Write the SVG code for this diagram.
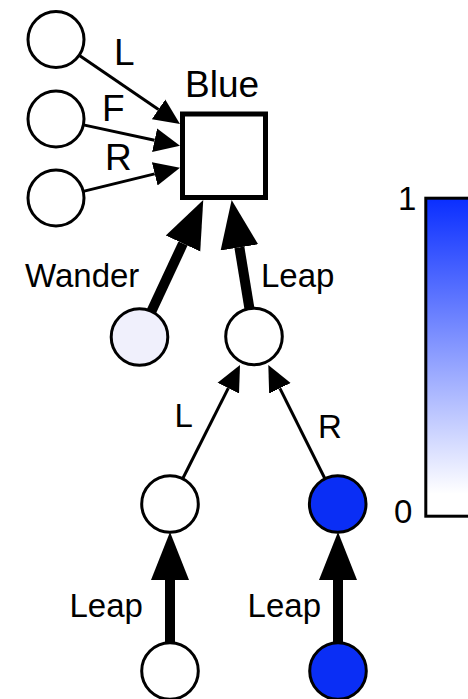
<svg xmlns="http://www.w3.org/2000/svg" width="468" height="699" viewBox="0 0 468 699">
  <defs>
    <marker id="thin" markerUnits="userSpaceOnUse" markerWidth="30" markerHeight="26" refX="0" refY="12" orient="auto" viewBox="0 0 30 24">
      <path d="M0,0 L26,12 L0,24 Z" fill="#000"/>
    </marker>
    <marker id="thick" markerUnits="userSpaceOnUse" markerWidth="50" markerHeight="40" refX="0" refY="19" orient="auto" viewBox="0 0 50 38">
      <path d="M0,0 L48,19 L0,38 Z" fill="#000"/>
    </marker>
    <linearGradient id="grad" x1="0" y1="0" x2="0" y2="1">
      <stop offset="0" stop-color="#0A2EFF"/>
      <stop offset="0.93" stop-color="#FFFFFF"/>
    </linearGradient>
    <style>
      .node { stroke: #000; stroke-width: 3; fill: #fff; }
      .blue { fill: #0A2EF5; }
      .pale { fill: #F0F0FC; }
      .thin { stroke: #000; stroke-width: 3; fill: none; marker-end: url(#thin); }
      .thick { stroke: #000; stroke-width: 10; fill: none; marker-end: url(#thick); }
      text { font-family: "Liberation Sans", Arial, sans-serif; fill: #000; }
      .big { font-size: 37px; }
      .lbl { font-size: 33px; }
    </style>
  </defs>

  <g id="connectors">
    <line class="thin" x1="79.1" y1="55.3" x2="158.5" y2="109.4"/>
    <line class="thin" x1="83.4" y1="124.9" x2="154.6" y2="140.2"/>
    <line class="thin" x1="83.2" y1="191.4" x2="154.7" y2="173.9"/>
    <line class="thick" x1="151.5" y1="311.2" x2="183.0" y2="243.5"/>
    <line class="thick" x1="249.4" y1="308.4" x2="239.4" y2="247.4"/>
    <line class="thin" x1="182.8" y1="478.5" x2="228.3" y2="388.2"/>
    <line class="thin" x1="325.1" y1="479" x2="279.9" y2="388.3"/>
    <line class="thick" x1="170" y1="643" x2="170" y2="580"/>
    <line class="thick" x1="338" y1="643" x2="338" y2="580"/>
    <text class="big" x="114" y="65">L</text>
    <text class="big" x="102" y="121">F</text>
    <text class="big" x="105" y="170">R</text>
    <text class="lbl" x="25" y="287">Wander</text>
    <text class="lbl" x="261" y="287">Leap</text>
    <text class="lbl" x="174.5" y="426.7">L</text>
    <text class="lbl" x="318" y="438">R</text>
    <text class="lbl" x="69.5" y="617">Leap</text>
    <text class="lbl" x="247.6" y="617">Leap</text>
  </g>

  <g id="in-L"><circle class="node" cx="56" cy="39.5" r="28"/></g>
  <g id="in-F"><circle class="node" cx="56" cy="119" r="28"/></g>
  <g id="in-R"><circle class="node" cx="56" cy="198" r="28"/></g>
  <g id="blue-node">
    <rect x="182.5" y="114" width="83" height="83.5" fill="#fff" stroke="#000" stroke-width="5"/>
    <text class="big" x="185" y="96.7">Blue</text>
  </g>
  <g id="wander"><circle class="node pale" cx="139.5" cy="337" r="28.3"/></g>
  <g id="leap"><circle class="node" cx="254" cy="336.5" r="28.3"/></g>
  <g id="leap-L"><circle class="node" cx="170" cy="504" r="28.3"/></g>
  <g id="leap-R"><circle class="node blue" cx="337.7" cy="504" r="28.3"/></g>
  <g id="leap-L-leap"><circle class="node" cx="170" cy="671" r="28.3"/></g>
  <g id="leap-R-leap"><circle class="node blue" cx="338" cy="671" r="28.3"/></g>

  <g id="colorbar">
    <rect x="425.8" y="198.2" width="60" height="318" fill="url(#grad)" stroke="#000" stroke-width="3"/>
    <text class="lbl" x="398" y="210">1</text>
    <text class="lbl" x="394" y="523">0</text>
  </g>
</svg>
